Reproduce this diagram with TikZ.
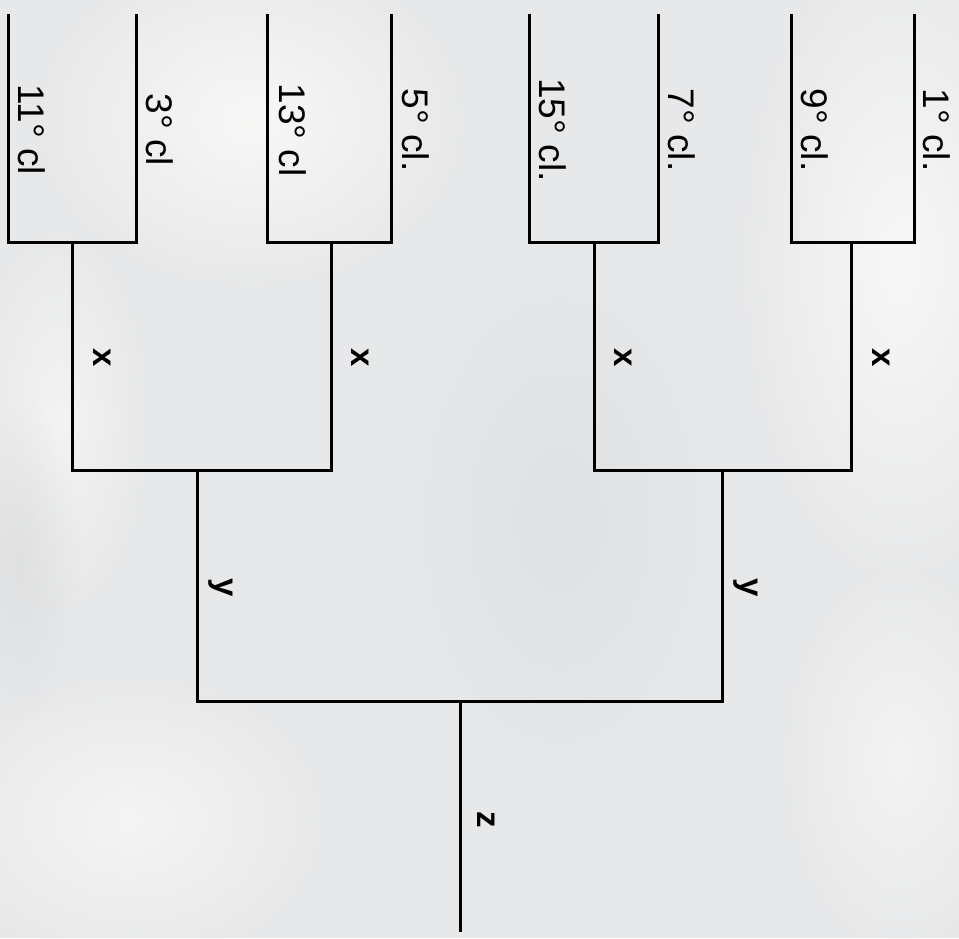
\documentclass[tikz,border=0pt]{standalone}
\usepackage{fontspec}
\setmainfont{Liberation Sans}
\usetikzlibrary{fadings}
\definecolor{bg}{HTML}{E7E8E9}
\definecolor{lite}{HTML}{F8F8F7}
\definecolor{dim}{HTML}{D9DADB}
\tikzfading[name=fuzzy, inner color=transparent!0, outer color=transparent!100]
\begin{document}
\begin{tikzpicture}[x=1pt,y=-1pt,
  bracket/.style={line width=3pt, black, line join=miter},
  leaflab/.style={rotate=-90, anchor=base, inner sep=0pt, font=\fontsize{37}{40}\selectfont},
  varlab/.style={rotate=-90, anchor=base, inner sep=0pt, font=\bfseries\fontsize{33}{36}\selectfont},
  blob/.style={fill=#1, path fading=fuzzy}]
\useasboundingbox (0,0) rectangle (959,938);
% background
\fill[bg] (0,0) rectangle (959,938);
\fill[blob=lite] (250,120) ellipse [x radius=220pt, y radius=170pt];
\fill[blob=lite] (900,260) ellipse [x radius=160pt, y radius=330pt];
\fill[blob=lite, opacity=0.8] (130,820) ellipse [x radius=200pt, y radius=150pt];
\fill[blob=lite, opacity=0.7] (900,760) ellipse [x radius=120pt, y radius=200pt];
\fill[blob=lite, opacity=0.7] (60,420) ellipse [x radius=90pt, y radius=200pt];
\fill[blob=dim, opacity=0.6] (20,560) ellipse [x radius=60pt, y radius=160pt];
\fill[blob=dim, opacity=0.5] (560,520) ellipse [x radius=160pt, y radius=260pt];
% coordinates
\foreach \n/\xa/\xb/\xm in {1/8/136/72, 2/267/391/331, 3/529/658/594, 4/791/914/851}{
  \coordinate (t\n a) at (\xa,14);
  \coordinate (b\n a) at (\xa,242);
  \coordinate (t\n b) at (\xb,14);
  \coordinate (b\n b) at (\xb,242);
  \coordinate (j\n) at (\xm,242);
  \coordinate (k\n) at (\xm,470);
}
\coordinate (m1) at (197,470);
\coordinate (m2) at (722,470);
\coordinate (n1) at (197,701);
\coordinate (n2) at (722,701);
\coordinate (r) at (460,701);
\coordinate (rend) at (460,932);
% leaf brackets
\foreach \n in {1,2,3,4}{
  \draw[bracket] (t\n a) -- (b\n a) -- (b\n b) -- (t\n b);
}
% second level
\draw[bracket] (j1) -- (k1) -- (k2) -- (j2);
\draw[bracket] (j3) -- (k3) -- (k4) -- (j4);
% third level
\draw[bracket] (m1) -- (n1) -- (n2) -- (m2);
% root
\draw[bracket] (r) -- (rend);
% leaf labels
\node[leaflab] (L11) at (18,130) {11° cl};
\node[leaflab] (L3)  at (146,130) {3° cl};
\node[leaflab] (L13) at (279,130) {13° cl};
\node[leaflab] (L5)  at (402,130) {5° cl.};
\node[leaflab] (L15) at (539,130) {15° cl.};
\node[leaflab] (L7)  at (668,130) {7° cl.};
\node[leaflab] (L9)  at (801,130) {9° cl.};
\node[leaflab] (L1)  at (923,130) {1° cl.};
% variable labels
\node[varlab] (x1) at (93,358) {x};
\node[varlab] (x2) at (351,358) {x};
\node[varlab] (x3) at (614,358) {x};
\node[varlab] (x4) at (872,358) {x};
\node[varlab] (y1) at (215,588) {y};
\node[varlab] (y2) at (740,588) {y};
\node[varlab] (z)  at (477,820) {z};
\end{tikzpicture}
\end{document}
